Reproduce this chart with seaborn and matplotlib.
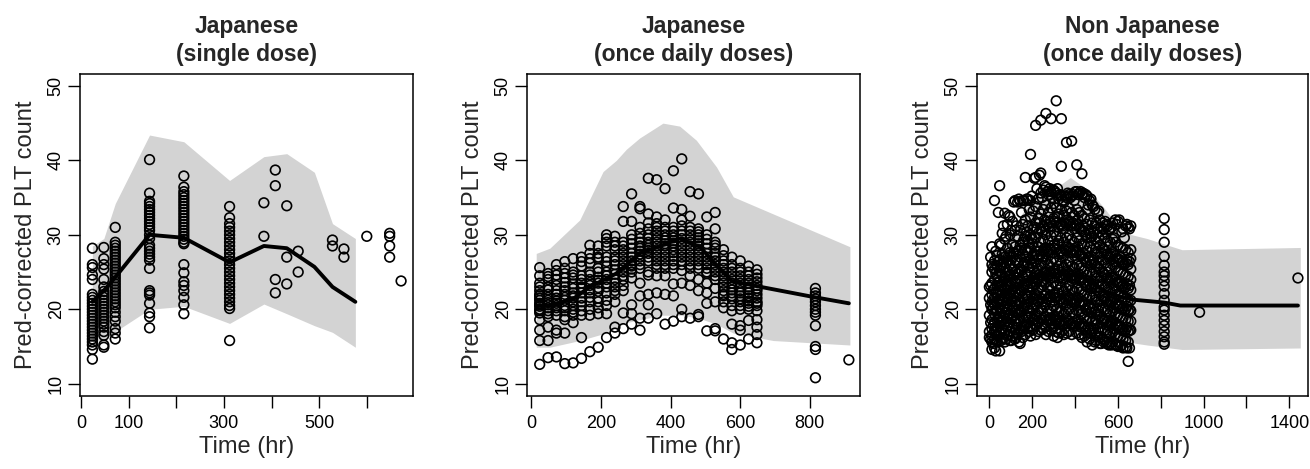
import matplotlib
matplotlib.use("Agg")
import matplotlib.pyplot as plt
import numpy as np
import pandas as pd
import seaborn as sns

# ---------------- Panel 1 : Japanese (single dose) ----------------
p1_obs = {
    24: [28.2, 26.0, 25.6, 24.6, 24.0, 22.0, 21.6, 21.2, 20.8, 20.4, 20.0, 19.6, 19.2,
         18.8, 18.4, 18.0, 17.6, 17.2, 16.8, 16.4, 16.0, 15.6, 15.2, 14.6, 13.3],
    48: [28.3, 26.8, 26.0, 25.4, 24.0, 23.0, 22.4, 22.0, 21.6, 21.2, 20.8, 20.4, 20.0,
         19.6, 19.2, 18.8, 18.4, 18.0, 17.6, 17.0, 16.5, 15.2, 14.9],
    72: [31.0, 29.0, 28.6, 28.2, 27.8, 27.4, 27.0, 26.6, 26.2, 25.8, 25.4, 25.0, 24.6,
         24.2, 23.8, 23.4, 23.0, 22.6, 22.2, 21.8, 21.4, 21.0, 20.6, 20.2, 19.6, 19.0,
         18.4, 17.4, 16.8, 16.0],
    144: [40.1, 35.6, 34.5, 34.2, 33.8, 33.4, 33.0, 32.6, 32.2, 31.8, 31.4, 31.0, 30.6,
          30.0, 29.5, 28.6, 28.2, 27.8, 27.4, 27.0, 26.6, 25.5, 22.5, 22.2, 21.9, 20.8,
          19.5, 19.0, 17.5],
    216: [37.9, 36.4, 35.8, 35.4, 35.0, 34.6, 34.2, 33.8, 33.4, 33.0, 32.6, 32.2, 31.8,
          31.4, 31.0, 30.6, 30.2, 29.8, 29.4, 29.0, 28.8, 26.0, 24.9, 23.7, 23.2, 22.5,
          21.6, 20.6, 19.4],
    312: [33.8, 32.3, 31.5, 31.0, 30.5, 30.0, 29.5, 29.0, 28.5, 28.0, 27.5, 27.0, 26.5,
          26.0, 25.5, 25.0, 24.5, 24.0, 23.5, 23.0, 22.5, 22.0, 21.5, 21.0, 20.5, 20.1,
          15.8],
    384: [34.3, 29.8],
    408: [38.7, 36.6, 24.0, 22.2],
    432: [33.9, 27.0, 23.4],
    456: [27.8, 25.0],
    528: [29.3, 28.5],
    552: [28.1, 27.0],
    600: [29.8],
    648: [30.2, 29.8, 28.5, 27.0],
    672: [23.8],
}
p1_time = [24, 48, 72, 144, 216, 312, 384, 432, 490, 528, 576]
p1_median = [21.0, 22.5, 24.3, 30.0, 29.6, 26.3, 28.5, 28.2, 25.7, 23.0, 21.0]
p1_upper = [28.5, 29.5, 34.2, 43.4, 42.5, 37.3, 40.5, 40.9, 38.4, 31.5, 29.5]
p1_lower = [15.5, 16.0, 17.0, 20.0, 20.4, 18.1, 20.7, 19.4, 17.8, 16.9, 14.9]

# ---------------- Panel 2 : Japanese (once daily doses) ----------------
p2_obs = {
    24: [25.6, 24.5, 23.5, 22.5, 21.8, 21.2, 20.8, 20.4, 20.0, 19.5, 18.6, 17.2, 15.8, 12.6,
         23.0, 22.0, 21.5, 20.6, 19.8],
    48: [24.8, 24.0, 23.0, 22.0, 21.2, 20.6, 20.2, 19.8, 19.4, 17.6, 15.8, 13.5,
         24.4, 22.6, 21.6, 20.9, 19.0],
    72: [26.0, 25.2, 24.0, 22.5, 21.5, 20.8, 20.2, 19.8, 19.2, 17.2, 16.8, 13.6,
         24.6, 23.2, 22.0, 21.1, 20.5],
    96: [26.4, 25.5, 24.2, 23.0, 22.0, 21.2, 20.5, 19.8, 19.0, 18.6, 16.8, 12.7,
         24.8, 23.6, 22.5, 21.6, 20.2],
    120: [26.8, 25.0, 24.2, 23.4, 22.2, 21.5, 20.5, 20.0, 19.2, 18.2, 12.8,
          24.6, 22.8, 21.8, 21.0, 19.6],
    144: [27.0, 25.8, 24.5, 23.5, 22.8, 21.5, 20.5, 19.8, 19.2, 16.2, 13.4,
          26.4, 24.0, 23.0, 22.2, 21.0],
    168: [28.6, 27.5, 26.2, 25.0, 24.0, 23.2, 22.2, 21.0, 20.0, 19.2, 14.3,
          26.8, 24.6, 23.6, 22.6, 21.6],
    192: [28.5, 27.5, 26.8, 25.5, 24.3, 23.5, 22.4, 21.5, 20.2, 19.4, 14.9,
          27.0, 25.0, 23.9, 22.9, 21.0],
    216: [30.0, 29.5, 28.5, 27.0, 25.8, 25.0, 24.0, 23.0, 21.2, 20.5, 19.4, 16.2,
          29.0, 26.4, 24.5, 23.5, 22.2],
    240: [29.8, 29.0, 28.0, 27.0, 26.0, 25.3, 24.0, 23.0, 22.0, 21.0, 17.6, 16.8,
          28.5, 26.5, 24.7, 23.5, 22.5],
    264: [33.8, 31.8, 29.0, 28.0, 27.0, 26.0, 25.0, 24.0, 22.5, 19.5, 17.4,
          28.5, 27.5, 26.5, 25.5, 24.5, 23.2],
    288: [35.5, 31.8, 30.0, 28.8, 27.5, 26.5, 25.8, 25.0, 24.2, 20.6, 19.4, 18.0,
          29.4, 28.2, 27.0, 26.0, 25.4],
    312: [33.8, 33.5, 31.0, 29.5, 28.5, 27.8, 27.0, 26.0, 25.5, 23.5, 21.8, 18.8, 17.2,
          30.2, 29.0, 28.2, 27.4, 26.5],
    336: [37.6, 32.8, 31.6, 30.0, 29.0, 28.2, 27.5, 26.5, 25.0, 24.6, 22.0, 20.6, 18.8,
          30.8, 29.5, 28.6, 27.9, 27.0],
    360: [37.4, 32.4, 31.5, 30.5, 29.5, 28.5, 27.5, 26.5, 25.5, 24.5, 22.2, 19.4,
          31.0, 30.0, 29.0, 28.0, 27.0, 26.0],
    384: [36.2, 32.0, 31.0, 30.0, 29.2, 28.5, 27.5, 26.5, 25.5, 24.5, 22.0, 18.0,
          30.5, 29.6, 28.8, 28.0, 27.0, 26.0],
    408: [38.6, 33.6, 31.0, 30.0, 29.2, 28.5, 27.6, 26.5, 25.5, 23.4, 21.8, 18.4,
          30.5, 29.6, 28.9, 28.0, 27.1, 26.0],
    432: [40.2, 33.4, 32.0, 30.5, 29.5, 28.5, 27.5, 26.5, 25.2, 23.5, 20.0, 19.0,
          31.2, 30.0, 29.0, 28.0, 27.0, 26.0],
    456: [35.8, 32.5, 31.0, 30.0, 29.0, 28.0, 27.0, 26.0, 24.5, 23.2, 18.8,
          30.5, 29.5, 28.5, 27.5, 26.5, 25.5],
    480: [35.5, 30.8, 30.0, 29.2, 28.5, 27.5, 26.5, 25.5, 24.0, 22.5, 19.3, 19.0,
          30.4, 29.6, 28.8, 28.0, 27.0, 26.0],
    504: [32.4, 30.0, 28.8, 27.5, 26.5, 25.5, 24.8, 23.5, 22.2, 20.8, 17.1,
          29.4, 28.2, 27.0, 26.0, 25.0],
    528: [33.0, 30.8, 29.0, 28.2, 27.0, 26.0, 25.0, 24.0, 22.8, 21.0, 17.4, 17.1,
          28.6, 27.5, 26.5, 25.5, 24.5],
    552: [28.0, 26.5, 25.5, 24.5, 23.5, 22.5, 21.8, 21.0, 20.2, 16.0,
          27.2, 26.0, 25.0, 24.0, 23.0, 22.0],
    576: [27.0, 26.0, 25.0, 24.0, 23.0, 22.2, 21.4, 20.5, 19.8, 18.0, 15.5, 14.6,
          25.5, 24.5, 23.5, 22.6, 21.8],
    600: [26.5, 25.5, 24.5, 23.5, 22.5, 21.8, 21.0, 20.0, 17.8, 17.2, 15.2,
          25.0, 24.0, 23.0, 22.2, 21.4, 20.5],
    624: [25.8, 25.0, 24.0, 23.0, 22.2, 21.5, 20.8, 20.0, 18.5, 16.0,
          24.5, 23.5, 22.6, 21.8, 21.1, 20.4],
    648: [25.3, 24.2, 23.2, 22.5, 22.0, 21.0, 20.5, 19.8, 18.6, 17.6, 16.6, 15.5,
          24.7, 23.7, 22.8, 21.5, 20.8],
    816: [22.8, 22.2, 21.8, 21.4, 21.0, 20.5, 20.0, 19.6, 19.2, 17.8, 15.0, 14.6, 10.8],
    912: [13.2],
}
p2_med_time = [14, 53, 120, 168, 244, 311, 388, 426, 484, 530, 575, 648, 816, 912]
p2_median = [20.5, 20.5, 21.4, 23.0, 24.8, 27.5, 28.8, 29.5, 28.4, 26.0, 23.8, 23.1, 21.6, 20.8]
p2_band_time = [14, 53, 139, 206, 244, 273, 311, 378, 426, 474, 532, 580, 695, 915]
p2_upper = [27.5, 28.2, 32.0, 38.5, 40.0, 41.5, 43.0, 45.0, 44.6, 42.7, 39.1, 35.1, 32.8, 28.4]
p2_lower = [14.9, 14.9, 15.8, 16.7, 17.6, 18.2, 18.6, 19.2, 19.2, 18.9, 18.0, 16.8, 15.8, 15.2]

# ---------------- Panel 3 : Non Japanese (once daily doses) ----------------
p3_obs = {
    0: [19.2, 23.0, 21.5, 17.0, 16.2],
    6: [27.0, 23.2, 20.6, 18.2, 16.0],
    12: [28.4, 26.0, 25.0, 23.5, 22.0, 21.0, 20.0, 18.6, 17.4, 16.5, 15.6, 14.6],
    18: [25.6, 22.6, 20.2, 17.8, 15.4],
    24: [34.6, 26.5, 25.4, 24.0, 22.8, 21.6, 20.6, 19.4, 18.2, 17.0, 16.0, 14.8],
    30: [27.8, 24.8, 22.2, 19.8, 17.2, 14.4],
    36: [27.2, 25.8, 24.4, 23.2, 22.0, 20.8, 19.8, 18.6, 17.6, 16.6, 15.8],
    42: [33.0, 26.4, 23.6, 21.2, 18.8, 16.4],
    48: [36.6, 28.8, 26.6, 25.2, 23.8, 22.6, 21.4, 20.2, 19.0, 17.8, 16.8, 14.4],
    54: [28.6, 25.6, 23.0, 20.6, 18.2, 15.8],
    60: [30.2, 27.4, 26.0, 24.6, 23.2, 22.0, 21.0, 19.8, 18.4, 17.2, 16.0],
    66: [31.2, 26.4, 23.8, 21.2, 18.8, 16.2],
    72: [32.9, 29.4, 27.0, 25.6, 24.2, 22.8, 21.6, 20.4, 19.2, 18.0, 16.8, 15.6],
    78: [29.8, 26.2, 23.4, 20.8, 18.4, 16.0],
    84: [31.4, 28.2, 26.6, 25.2, 23.8, 22.6, 21.2, 20.0, 18.8, 17.6, 16.4],
    90: [32.6, 27.2, 24.4, 21.6, 19.2, 16.6],
    96: [32.4, 30.0, 27.6, 26.0, 24.6, 23.2, 22.0, 20.6, 19.4, 18.2, 17.0, 15.8],
    102: [30.6, 26.6, 23.6, 21.0, 18.6, 15.8],
    108: [31.8, 28.6, 27.0, 25.4, 24.0, 22.6, 21.4, 20.2, 19.0, 17.6, 16.4],
    114: [34.4, 27.6, 24.6, 21.8, 19.2, 16.8],
    120: [34.6, 30.6, 28.4, 26.6, 25.0, 23.6, 22.2, 21.0, 19.8, 18.4, 17.2, 16.0],
    126: [31.2, 27.4, 24.2, 21.6, 18.8, 16.2],
    132: [34.4, 29.8, 27.8, 26.2, 24.8, 23.4, 22.0, 20.6, 19.4, 18.0, 16.8],
    138: [34.8, 28.0, 25.0, 22.2, 19.6, 15.6],
    144: [34.5, 30.6, 28.6, 27.0, 25.4, 24.0, 22.6, 21.2, 19.8, 18.6, 17.2, 15.4],
    150: [33.0, 28.2, 25.2, 22.4, 19.6, 17.0],
    156: [34.6, 31.4, 29.0, 27.4, 25.8, 24.4, 23.0, 21.6, 20.2, 18.8, 17.4, 16.2],
    162: [34.6, 29.4, 26.2, 23.2, 20.4, 17.6],
    168: [37.7, 32.0, 29.8, 28.0, 26.4, 24.8, 23.4, 22.0, 20.6, 19.2, 17.8, 16.6],
    174: [34.8, 30.4, 27.0, 23.8, 21.0, 18.2],
    180: [34.8, 31.2, 29.2, 27.6, 26.0, 24.6, 23.0, 21.6, 20.2, 18.8, 17.4],
    186: [33.4, 29.0, 25.6, 22.6, 19.8, 17.0],
    192: [40.8, 34.6, 32.4, 30.0, 28.2, 26.6, 25.0, 23.6, 22.2, 20.8, 19.4, 17.8, 16.4],
    198: [35.2, 29.6, 26.2, 23.0, 20.2, 17.4],
    204: [33.2, 30.8, 28.8, 27.2, 25.6, 24.2, 22.8, 21.4, 20.0, 18.6, 17.2],
    210: [37.6, 31.0, 27.4, 24.2, 21.4, 18.6],
    216: [44.7, 37.7, 33.8, 31.6, 29.6, 27.8, 26.2, 24.8, 23.4, 22.0, 20.6, 19.2, 17.8, 16.6],
    222: [36.2, 30.8, 27.2, 24.0, 21.2, 18.4],
    228: [34.8, 32.2, 30.2, 28.4, 26.8, 25.4, 24.0, 22.6, 21.0, 19.6, 18.2, 17.0],
    234: [38.0, 31.6, 27.8, 24.6, 21.6, 18.8],
    240: [45.4, 38.3, 35.6, 32.8, 30.8, 29.0, 27.4, 26.0, 24.4, 23.0, 21.4, 20.0, 18.6, 17.2],
    246: [35.0, 30.4, 27.0, 23.8, 21.0, 18.0],
    252: [36.0, 33.4, 31.2, 29.4, 27.8, 26.2, 24.8, 23.2, 21.8, 20.2, 18.8, 17.4],
    258: [36.6, 32.0, 28.2, 25.0, 21.8, 19.0],
    264: [46.3, 36.4, 34.0, 31.8, 30.0, 28.2, 26.6, 25.0, 23.6, 22.0, 20.6, 19.0, 17.6, 16.6],
    270: [35.8, 31.4, 27.8, 24.6, 21.4, 18.6],
    276: [35.4, 33.0, 31.0, 29.2, 27.6, 26.0, 24.4, 23.0, 21.4, 19.8, 18.4, 17.0],
    282: [36.2, 31.8, 28.2, 25.0, 21.8, 18.8],
    288: [45.6, 35.8, 33.6, 31.6, 29.8, 28.0, 26.4, 24.8, 23.2, 21.6, 20.0, 18.6, 17.2],
    294: [35.0, 31.2, 27.6, 24.2, 21.0, 18.0],
    300: [36.0, 34.2, 32.2, 30.4, 28.6, 26.8, 25.2, 23.6, 22.0, 20.4, 19.0, 17.6, 16.4],
    306: [35.8, 31.8, 28.2, 24.8, 21.6, 18.6],
    312: [48.0, 35.6, 33.6, 31.6, 29.8, 28.0, 26.4, 24.8, 23.2, 21.6, 20.0, 18.4, 17.0],
    318: [36.2, 32.4, 28.8, 25.4, 22.2, 19.0, 16.2],
    324: [34.8, 32.8, 31.0, 29.2, 27.4, 25.8, 24.2, 22.6, 21.0, 19.6, 18.2, 16.8],
    330: [35.4, 31.4, 27.8, 24.4, 21.2, 18.0],
    336: [45.6, 39.2, 35.2, 33.4, 31.4, 29.6, 27.8, 26.2, 24.6, 23.0, 21.4, 19.8, 18.4, 17.0],
    342: [34.6, 31.2, 27.6, 24.2, 21.0, 17.8],
    348: [34.4, 32.6, 30.8, 29.0, 27.2, 25.6, 24.0, 22.4, 20.8, 19.4, 18.0, 16.6],
    354: [35.2, 31.6, 28.0, 24.6, 21.4, 18.2],
    360: [42.4, 35.0, 33.2, 31.4, 29.6, 27.8, 26.0, 24.4, 22.8, 21.2, 19.6, 18.2, 16.8],
    366: [35.6, 32.0, 28.4, 25.0, 21.8, 18.6],
    372: [35.4, 33.6, 31.8, 30.0, 28.2, 26.4, 24.8, 23.2, 21.6, 20.0, 18.4, 17.0],
    378: [35.0, 31.4, 27.8, 24.4, 21.2, 18.0],
    384: [42.6, 35.2, 33.0, 31.2, 29.4, 27.6, 25.8, 24.2, 22.6, 21.0, 19.6, 18.0, 16.6],
    390: [35.4, 31.6, 28.0, 24.6, 21.4, 18.2],
    396: [34.6, 32.6, 30.8, 29.0, 27.2, 25.6, 24.0, 22.4, 20.8, 19.4, 17.8],
    402: [35.8, 31.2, 27.6, 24.2, 21.0, 17.8],
    408: [39.4, 35.8, 33.4, 31.4, 29.6, 27.8, 26.0, 24.4, 22.8, 21.2, 19.8, 18.2, 16.8],
    414: [35.4, 32.0, 28.4, 24.8, 21.6, 18.6],
    420: [35.6, 33.0, 31.0, 29.2, 27.4, 25.8, 24.2, 22.6, 21.0, 19.6, 18.0, 16.6],
    426: [35.8, 30.8, 27.2, 23.8, 20.6, 17.6],
    432: [38.2, 35.4, 32.6, 30.6, 28.8, 27.2, 25.6, 24.0, 22.4, 20.8, 19.4, 17.8, 16.2],
    438: [35.6, 31.2, 27.6, 24.2, 21.0, 18.0],
    444: [35.0, 32.2, 30.4, 28.6, 26.8, 25.2, 23.6, 22.0, 20.6, 19.0, 17.6, 16.4],
    450: [35.4, 30.0, 26.4, 23.2, 20.0, 17.2],
    456: [35.2, 33.4, 31.4, 29.6, 27.8, 26.2, 24.6, 23.0, 21.4, 19.8, 18.4, 16.8, 15.6],
    462: [34.0, 30.6, 27.0, 23.8, 20.6, 17.6],
    468: [34.6, 32.0, 30.2, 28.4, 26.6, 25.0, 23.4, 21.8, 20.2, 18.8, 17.2, 16.0],
    474: [34.8, 29.6, 26.0, 22.8, 19.6, 16.8],
    480: [34.0, 31.6, 29.8, 28.0, 26.4, 24.8, 23.2, 21.6, 20.0, 18.4, 17.0, 15.2],
    486: [33.8, 30.2, 26.6, 23.4, 20.2, 17.4],
    492: [33.4, 31.2, 29.4, 27.6, 26.0, 24.4, 22.8, 21.2, 19.6, 18.2, 16.6, 15.6],
    498: [31.6, 28.2, 25.0, 21.8, 18.6, 15.8],
    504: [33.0, 30.8, 29.0, 27.4, 25.8, 24.2, 22.6, 21.0, 19.4, 18.0, 16.4],
    510: [33.2, 29.6, 26.2, 23.0, 19.8, 17.0],
    516: [32.0, 30.4, 28.6, 27.0, 25.4, 23.8, 22.2, 20.6, 19.0, 17.6, 16.2, 15.4],
    522: [31.0, 27.6, 24.4, 21.2, 18.2, 15.4],
    528: [31.6, 30.0, 28.2, 26.6, 25.0, 23.4, 21.8, 20.2, 18.8, 17.4, 16.0],
    534: [30.8, 28.0, 24.8, 21.6, 18.4, 15.6],
    540: [31.8, 29.6, 27.8, 26.2, 24.6, 23.0, 21.4, 20.0, 18.6, 17.2, 15.8],
    546: [31.4, 27.4, 24.2, 21.0, 18.2, 15.4],
    552: [31.2, 29.2, 27.4, 25.8, 24.2, 22.6, 21.2, 19.8, 18.4, 17.0, 15.6],
    558: [30.6, 27.0, 23.8, 20.6, 17.8, 15.2],
    564: [30.8, 29.0, 27.2, 25.6, 24.0, 22.4, 21.0, 19.6, 18.2, 16.8, 15.4],
    570: [31.0, 27.4, 24.2, 21.0, 18.0, 15.2],
    576: [31.6, 29.4, 27.6, 26.0, 24.4, 22.8, 21.2, 19.8, 18.4, 17.0, 15.6],
    582: [29.6, 26.4, 23.2, 20.2, 17.4],
    588: [32.0, 29.0, 27.2, 25.6, 24.0, 22.4, 20.8, 19.4, 18.0, 16.6, 15.2],
    594: [31.4, 26.8, 23.6, 20.6, 17.8, 15.2],
    600: [31.8, 28.6, 26.8, 25.2, 23.6, 22.0, 20.6, 19.2, 17.8, 16.4, 15.0],
    606: [32.0, 26.6, 23.4, 20.4, 17.6],
    612: [28.4, 26.6, 25.0, 23.4, 21.8, 20.4, 19.0, 17.6, 16.2, 15.0],
    618: [30.4, 26.2, 23.0, 20.0, 17.2, 15.2],
    624: [30.8, 28.2, 26.4, 24.8, 23.2, 21.6, 20.2, 18.8, 17.4, 16.0, 14.8],
    630: [29.6, 26.0, 22.8, 19.8, 17.0],
    636: [31.2, 28.0, 26.2, 24.6, 23.0, 21.4, 20.0, 18.6, 17.2, 15.8, 14.9],
    642: [31.4, 26.6, 23.4, 20.4, 17.6, 14.8],
    648: [31.0, 27.6, 26.0, 24.4, 22.8, 21.2, 19.8, 18.4, 17.0, 15.6, 13.0],
    654: [30.8, 26.4, 23.2, 20.0, 17.2, 14.8],
    660: [31.2, 28.0, 26.8, 25.4, 24.0, 22.6, 21.2, 19.8, 18.4, 17.2],
    816: [32.2, 30.7, 29.0, 27.1, 25.9, 25.0, 24.5, 23.8, 23.1, 22.1, 21.2, 20.3, 19.9,
          19.2, 18.5, 17.8, 17.0, 16.3, 15.6, 15.3],
    981: [19.6],
    1440: [24.2],
}
p3_med_time = [0, 48, 120, 192, 264, 312, 384, 440, 534, 600, 666, 816, 891, 1440]
p3_median = [21.0, 21.8, 23.0, 24.0, 24.6, 24.8, 24.6, 24.2, 22.5, 21.8, 21.3, 20.9, 20.5, 20.5]
p3_band_time = [10, 67, 120, 168, 191, 260, 316, 378, 471, 533, 627, 666, 736, 899, 1451]
p3_upper = [27.5, 28.6, 31.5, 33.5, 34.6, 35.8, 36.4, 37.7, 35.8, 33.7, 30.2, 30.0, 29.5, 28.0, 28.3]
p3_lower = [15.0, 15.0, 15.5, 16.2, 16.4, 16.6, 16.7, 16.7, 16.5, 16.3, 15.8, 15.5, 15.2, 14.6, 14.8]

titles = ["Japanese\n(single dose)", "Japanese\n(once daily doses)",
          "Non Japanese\n(once daily doses)"]
x_ticks = [[0, 100, 200, 300, 400, 500, 600],
           [0, 200, 400, 600, 800],
           [0, 200, 400, 600, 800, 1000, 1200, 1400]]
x_ticklabels = [["0", "100", "", "300", "", "500", ""],
                ["0", "200", "400", "600", "800"],
                ["0", "200", "", "600", "", "1000", "", "1400"]]
y_ticks = [10, 20, 30, 40, 50]
x_limits = [(-2, 697), (-12.5, 944), (-57.6, 1487)]
y_limits = (8.35, 51.6)


def to_long(obs):
    rows = [(t, v) for t, vals in obs.items() for v in vals]
    return pd.DataFrame(rows, columns=["time", "value"])


panels = [
    (to_long(p1_obs), p1_time, p1_median, p1_time, p1_upper, p1_lower),
    (to_long(p2_obs), p2_med_time, p2_median, p2_band_time, p2_upper, p2_lower),
    (to_long(p3_obs), p3_med_time, p3_median, p3_band_time, p3_upper, p3_lower),
]

sns.set_style("white")
plt.rcParams["font.family"] = ["Liberation Sans", "DejaVu Sans"]

fig = plt.figure(figsize=(13.1, 4.69), dpi=100)
lefts = [80 / 1310, 527 / 1310, 977 / 1310]
widths = [333 / 1310, 333 / 1310, 331 / 1310]
bottom = 73 / 469
height = 322 / 469

for i, (df, mt, med, bt, up, lo) in enumerate(panels):
    ax = fig.add_axes([lefts[i], bottom, widths[i], height])
    ax.fill_between(bt, lo, up, color="#D3D3D3", linewidth=0, zorder=1)
    sns.scatterplot(data=df, x="time", y="value", ax=ax, marker="o", s=48,
                    facecolors="none", edgecolors="black", linewidth=1.2,
                    zorder=2, legend=False)
    line_df = pd.DataFrame({"time": mt, "median": med})
    sns.lineplot(data=line_df, x="time", y="median", ax=ax, color="black",
                 linewidth=2.8, estimator=None, sort=False, zorder=3)
    ax.set_xlim(*x_limits[i])
    ax.set_ylim(*y_limits)
    ax.set_xticks(x_ticks[i])
    ax.set_xticklabels(x_ticklabels[i])
    ax.set_yticks(y_ticks)
    ax.set_yticklabels([str(v) for v in y_ticks], rotation=90, va="center")
    ax.tick_params(axis="both", direction="out", length=8.5, width=1.0,
                   color="black", labelsize=13, labelcolor="black",
                   bottom=True, left=True)
    ax.tick_params(axis="x", pad=5.5)
    ax.tick_params(axis="y", pad=2.5)
    for sp in ax.spines.values():
        sp.set_visible(True)
        sp.set_color("black")
        sp.set_linewidth(1.1)
    ax.set_xlabel("Time (hr)", fontsize=17)
    ax.set_ylabel("Pred-corrected PLT count", fontsize=17)
    ax.xaxis.set_label_coords(0.5, -0.125)
    ax.yaxis.set_label_coords(-0.13, 0.5)
    l1, l2 = titles[i].split("\n")
    ax.text(0.5, 1 + (73 - 25) / 322, l1, transform=ax.transAxes, ha="center",
            va="center", fontsize=16.5, fontweight="bold")
    ax.text(0.5, 1 + (73 - 54) / 322, l2, transform=ax.transAxes, ha="center",
            va="center", fontsize=16.5, fontweight="bold")

fig.savefig("out.png", dpi=100)
